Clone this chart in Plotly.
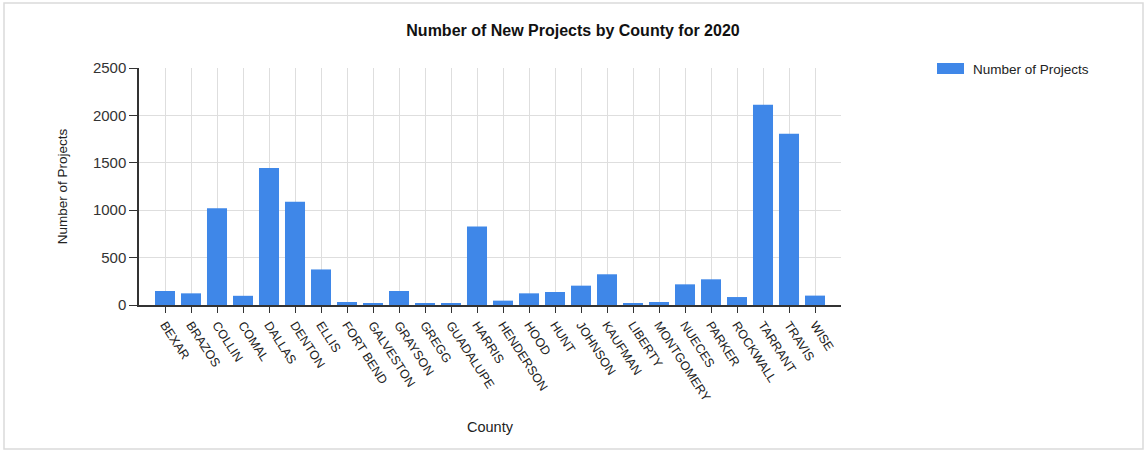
import plotly.graph_objects as go

counties = [
    "BEXAR", "BRAZOS", "COLLIN", "COMAL", "DALLAS", "DENTON", "ELLIS",
    "FORT BEND", "GALVESTON", "GRAYSON", "GREGG", "GUADALUPE", "HARRIS",
    "HENDERSON", "HOOD", "HUNT", "JOHNSON", "KAUFMAN", "LIBERTY",
    "MONTGOMERY", "NUECES", "PARKER", "ROCKWALL", "TARRANT", "TRAVIS", "WISE",
]
projects = [
    148, 123, 1020, 97, 1445, 1088, 375,
    32, 18, 148, 18, 18, 827,
    46, 123, 137, 204, 324, 18,
    32, 218, 271, 84, 2112, 1806, 99,
]
series_name = "Number of Projects"
y_ticks = [0, 500, 1000, 1500, 2000, 2500]

FONT = "Liberation Sans, Arial, sans-serif"
BAR_COLOR = "#3F87E8"
AXIS_COLOR = "#333333"
GRID_COLOR = "#DEDEDE"

fig = go.Figure(
    go.Bar(
        x=counties,
        y=projects,
        name=series_name,
        marker=dict(color=BAR_COLOR, line=dict(width=0)),
        showlegend=False,
    )
)

# plot area: x 139..841 px, y 68..305 px
L, R, T, B = 139, 841, 68, 305
W_PX, H_PX = 1146, 453
pw, ph = R - L, B - T


def px_x(x):
    return (x - L) / pw


def px_y(y):
    return (B - y) / ph


fig.update_layout(
    width=W_PX,
    height=H_PX,
    margin=dict(l=L, r=W_PX - R, t=T, b=H_PX - B, autoexpand=False),
    paper_bgcolor="white",
    plot_bgcolor="white",
    bargap=0.23,
    font=dict(family=FONT, color="#222222"),
    title=dict(
        text="<b>Number of New Projects by County for 2020</b>",
        x=0.5,
        xanchor="center",
        y=1 - 30 / H_PX,
        yanchor="middle",
        font=dict(size=16, color="#111111", family=FONT),
    ),
    xaxis=dict(
        type="category",
        range=[-1, len(counties)],
        tickangle=57,
        tickfont=dict(size=12.5, color="#222222"),
        ticks="outside",
        ticklen=6,
        tickcolor=AXIS_COLOR,
        showline=True,
        linecolor=AXIS_COLOR,
        linewidth=1.5,
        showgrid=True,
        gridcolor=GRID_COLOR,
        gridwidth=1,
        title=dict(text="County", font=dict(size=14.5, color="#222222"), standoff=18),
        automargin=False,
    ),
    yaxis=dict(
        range=[0, 2500],
        tickvals=y_ticks,
        tickfont=dict(size=15, color="#333333"),
        ticks="outside",
        ticklen=8,
        tickcolor=AXIS_COLOR,
        showline=True,
        linecolor=AXIS_COLOR,
        linewidth=1.5,
        showgrid=True,
        gridcolor=GRID_COLOR,
        gridwidth=1,
        zeroline=False,
        title=dict(text="Number of Projects", font=dict(size=13.5, color="#222222"), standoff=22),
        automargin=False,
    ),
)

# outer frame and legend swatch
fig.add_shape(
    type="rect", xref="paper", yref="paper",
    x0=px_x(4), x1=px_x(1143), y0=px_y(449), y1=px_y(3),
    line=dict(color="#DADADA", width=1.5), fillcolor="rgba(0,0,0,0)", layer="below",
)
fig.add_shape(
    type="rect", xref="paper", yref="paper",
    x0=px_x(937), x1=px_x(964), y0=px_y(74), y1=px_y(63),
    line=dict(width=0), fillcolor=BAR_COLOR,
)
fig.add_annotation(
    xref="paper", yref="paper", x=px_x(971), y=px_y(69.5),
    xanchor="left", yanchor="middle", showarrow=False,
    text=series_name, font=dict(size=13.5, color="#222222", family=FONT),
)

fig.write_html("out.html")
